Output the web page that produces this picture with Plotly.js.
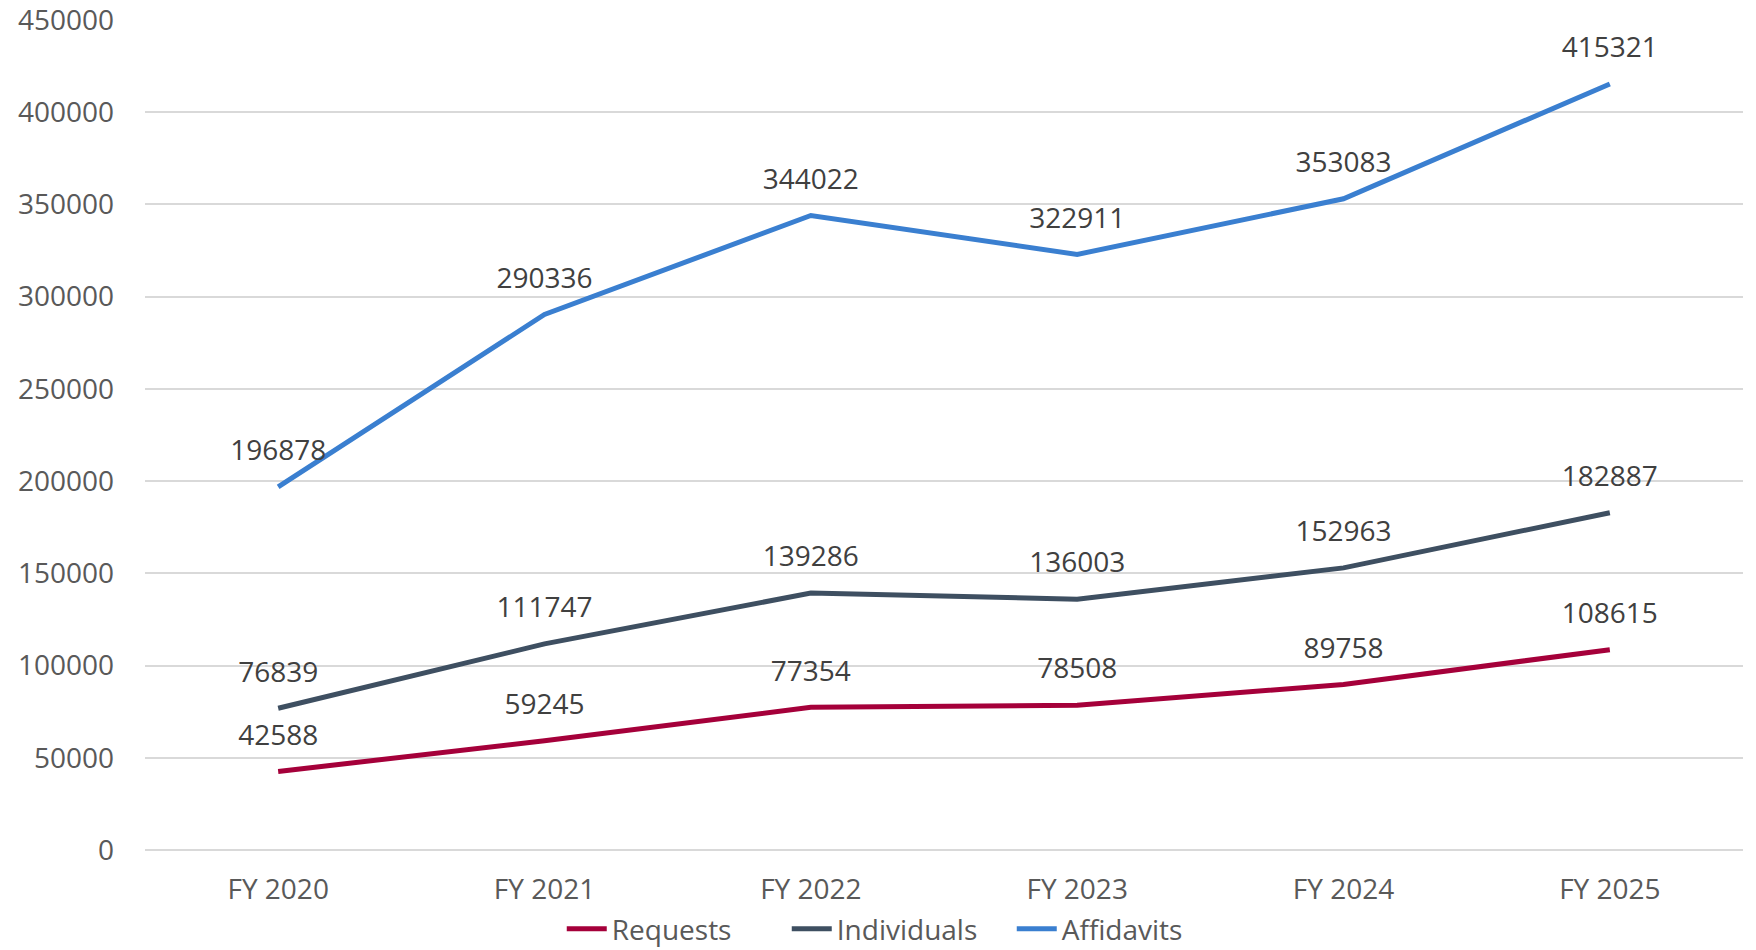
<!DOCTYPE html>
<html>
<head>
<meta charset="utf-8">
<script src="https://cdn.plot.ly/plotly-3.0.1.min.js"></script>
<style>html,body{margin:0;padding:0;background:#fff;}#chart{width:1756px;height:950px;}</style>
</head>
<body>
<div id="chart"></div>
<script>
const categories = ["FY 2020", "FY 2021", "FY 2022", "FY 2023", "FY 2024", "FY 2025"];
const requests = [42588, 59245, 77354, 78508, 89758, 108615];
const individuals = [76839, 111747, 139286, 136003, 152963, 182887];
const affidavits = [196878, 290336, 344022, 322911, 353083, 415321];
const seriesNames = ["Requests", "Individuals", "Affidavits"];
const colors = ["#A5003A", "#3E4F61", "#3A7FD0"];

const font = "'Open Sans', 'Liberation Sans', sans-serif";
const seriesData = [requests, individuals, affidavits];
const traces = seriesData.map((vals, i) => ({
  type: "scatter",
  mode: "lines+markers+text",
  x: categories,
  y: vals,
  name: seriesNames[i],
  text: vals.map(v => String(v)),
  textposition: "top center",
  textfont: {family: font, size: 28, color: "#404040"},
  line: {color: colors[i], width: 5},
  marker: {size: 30, color: "rgba(0,0,0,0)"},
  hoverinfo: "x+y+name"
}));

const layout = {
  width: 1756,
  height: 950,
  margin: {l: 145, r: 13, t: 20, b: 100, autoexpand: false},
  paper_bgcolor: "#ffffff",
  plot_bgcolor: "#ffffff",
  font: {family: font, size: 28, color: "#595959"},
  showlegend: true,
  legend: {
    orientation: "h",
    x: 0.472, xanchor: "center",
    yref: "container",
    y: 0.022, yanchor: "middle",
    bgcolor: "rgba(0,0,0,0)",
    font: {family: font, size: 28, color: "#595959"},
    itemwidth: 40,
    entrywidth: 170,
    tracegroupgap: 0
  },
  xaxis: {
    type: "category",
    range: [-0.5, 5.5],
    showgrid: false,
    showline: false,
    zeroline: false,
    ticks: "",
    tickfont: {family: font, size: 28, color: "#595959"},
    ticklabelstandoff: 20
  },
  yaxis: {
    range: [0, 450000],
    tick0: 0,
    dtick: 50000,
    tickformat: "d",
    showgrid: true,
    gridcolor: "#D9D9D9",
    gridwidth: 2,
    zeroline: true,
    zerolinecolor: "#D9D9D9",
    zerolinewidth: 2,
    showline: false,
    ticks: "",
    ticklabeloverflow: "allow",
    tickfont: {family: font, size: 28, color: "#595959"},
    ticklabelstandoff: 30
  }
};

Plotly.newPlot("chart", traces, layout, {displayModeBar: false, staticPlot: true});
</script>
</body>
</html>
